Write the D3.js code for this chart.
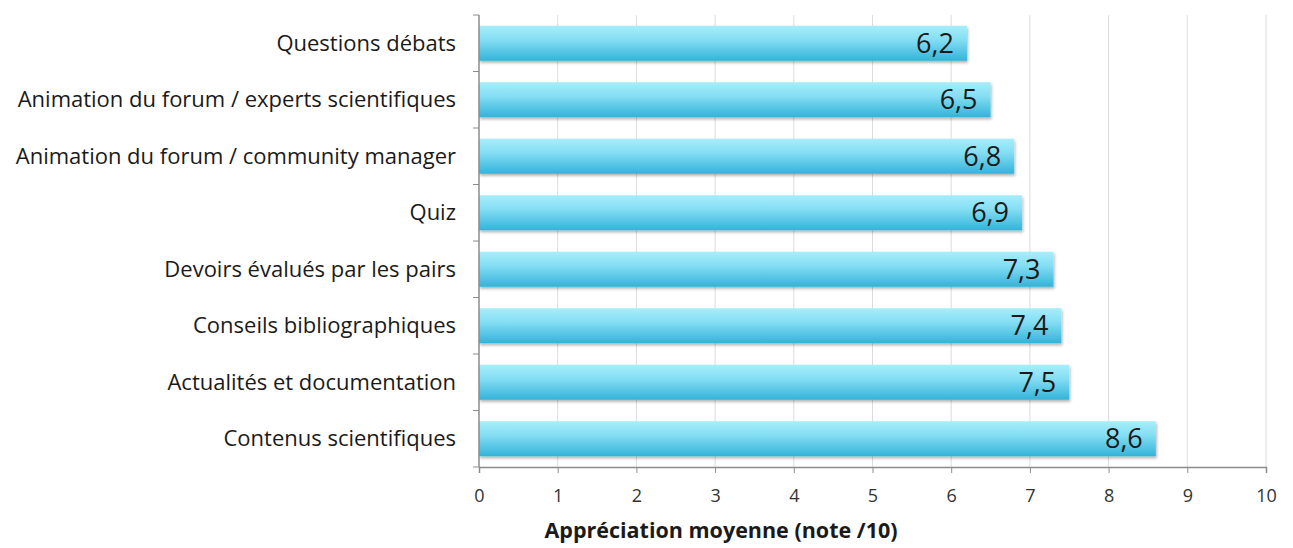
<!DOCTYPE html>
<html>
<head>
<meta charset="utf-8">
<script src="https://cdn.jsdelivr.net/npm/d3@7"></script>
<style>
  body { margin: 0; background: #fff; }
  text { font-family: "Open Sans", sans-serif; }
</style>
</head>
<body>
<div id="chart"></div>
<script>
// data
var categories = [
  "Questions débats",
  "Animation du forum / experts scientifiques",
  "Animation du forum / community manager",
  "Quiz",
  "Devoirs évalués par les pairs",
  "Conseils bibliographiques",
  "Actualités et documentation",
  "Contenus scientifiques"
];
var values = [6.2, 6.5, 6.8, 6.9, 7.3, 7.4, 7.5, 8.6];
var xTicks = [0, 1, 2, 3, 4, 5, 6, 7, 8, 9, 10];
var axisTitle = "Appréciation moyenne (note /10)";

var width = 1293, height = 548;
var margin = { top: 15, right: 27, bottom: 81, left: 479 };

var svg = d3.select("#chart").append("svg")
  .attr("width", width)
  .attr("height", height);

var defs = svg.append("defs");
var grad = defs.append("linearGradient")
  .attr("id", "barGrad")
  .attr("x1", 0).attr("y1", 0).attr("x2", 0).attr("y2", 1);
grad.append("stop").attr("offset", "0%").attr("stop-color", "#a6eefb");
grad.append("stop").attr("offset", "40%").attr("stop-color", "#84def3");
grad.append("stop").attr("offset", "100%").attr("stop-color", "#33b3d9");

var shadow = defs.append("filter").attr("id", "shadow")
  .attr("x", "-5%").attr("y", "-20%").attr("width", "110%").attr("height", "150%");
shadow.append("feDropShadow")
  .attr("dx", 1).attr("dy", 2).attr("stdDeviation", 1.5)
  .attr("flood-color", "#000").attr("flood-opacity", 0.3);

var g = svg.append("g")
  .attr("transform", "translate(" + margin.left + "," + margin.top + ")");

var w = width - margin.left - margin.right,
    h = height - margin.top - margin.bottom;

var x = d3.scaleLinear().domain([0, 10]).range([0, w]);
var y = d3.scaleBand().domain(categories).range([0, h]).paddingInner(0.38).paddingOuter(0.19);

// vertical gridlines
g.append("g").selectAll("line")
  .data(xTicks.slice(1))
  .enter().append("line")
    .attr("x1", function(d) { return x(d); })
    .attr("x2", function(d) { return x(d); })
    .attr("y1", 0).attr("y2", h)
    .attr("stroke", "#dcdcdc").attr("stroke-width", 1);

// bars
g.append("g").selectAll("rect")
  .data(values)
  .enter().append("rect")
    .attr("x", x(0))
    .attr("y", function(d, i) { return y(categories[i]); })
    .attr("width", function(d) { return x(d) - x(0); })
    .attr("height", y.bandwidth())
    .attr("fill", "url(#barGrad)")
    .attr("filter", "url(#shadow)");

// value labels
g.append("g").selectAll("text")
  .data(values)
  .enter().append("text")
    .attr("x", function(d) { return x(d) - 13; })
    .attr("y", function(d, i) { return y(categories[i]) + y.bandwidth() / 2; })
    .attr("dy", "0.36em")
    .attr("text-anchor", "end")
    .attr("font-size", 27)
    .attr("fill", "#1a1a1a")
    .text(function(d) { return d3.format(".1f")(d).replace(".", ","); });

// x axis
var xAxis = g.append("g")
  .attr("transform", "translate(0," + h + ")")
  .call(d3.axisBottom(x).tickValues(xTicks).tickSize(6).tickPadding(16));
xAxis.select(".domain").attr("stroke", "#8c8c8c").attr("stroke-width", 1.5);
xAxis.selectAll(".tick line").attr("stroke", "#8c8c8c");
xAxis.selectAll(".tick text")
  .attr("font-size", 18).attr("fill", "#333")
  .style("font-family", "'Open Sans', sans-serif");

// y axis: ticks on band boundaries
var yAxisG = g.append("g");
yAxisG.append("line")
  .attr("x1", 0).attr("x2", 0).attr("y1", 0).attr("y2", h)
  .attr("stroke", "#8c8c8c").attr("stroke-width", 1.5);
var bounds = d3.range(categories.length + 1).map(function(i) { return i * h / categories.length; });
yAxisG.selectAll(".ytick")
  .data(bounds)
  .enter().append("line")
    .attr("x1", -6).attr("x2", 0)
    .attr("y1", function(d) { return d; })
    .attr("y2", function(d) { return d; })
    .attr("stroke", "#8c8c8c");

// category labels
g.append("g").selectAll("text")
  .data(categories)
  .enter().append("text")
    .attr("x", -23)
    .attr("y", function(d) { return y(d) + y.bandwidth() / 2; })
    .attr("dy", "0.35em")
    .attr("text-anchor", "end")
    .attr("font-size", 22)
    .attr("fill", "#1a1a1a")
    .text(function(d) { return d; });

// axis title
svg.append("text")
  .attr("x", 721)
  .attr("y", 538)
  .attr("text-anchor", "middle")
  .attr("font-size", 21.5)
  .attr("font-weight", "bold")
  .attr("fill", "#1a1a1a")
  .text(axisTitle);
</script>
</body>
</html>
